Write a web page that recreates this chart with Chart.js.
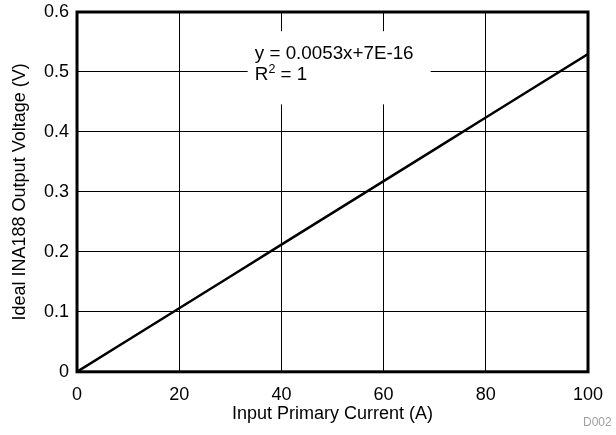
<!DOCTYPE html>
<html>
<head>
<meta charset="utf-8">
<script src="https://cdn.jsdelivr.net/npm/chart.js@4/dist/chart.umd.min.js"></script>
<style>
  html, body { margin: 0; padding: 0; background: #fff; }
  #wrap { position: relative; width: 616px; height: 435px; }
  #note { position: absolute; left: 583px; top: 415px; font: 12px "Liberation Sans", Arial, sans-serif; color: #a0a0a0; }
</style>
</head>
<body>
<div id="wrap">
  <canvas id="c" width="616" height="435"></canvas>
  <div id="note">D002</div>
</div>
<script>
const currentA = [0, 10, 20, 30, 40, 50, 60, 70, 80, 90, 100];
const outputV = [0, 0.053, 0.106, 0.159, 0.212, 0.265, 0.318, 0.371, 0.424, 0.477, 0.53];
const xTicks = [0, 20, 40, 60, 80, 100];
const yTicks = [0, 0.1, 0.2, 0.3, 0.4, 0.5, 0.6];
const eqLine1 = 'y = 0.0053x+7E-16';
const eqLine2R = 'R';
const eqLine2Sup = '2';
const eqLine2Rest = ' = 1';

const FONT = '"Liberation Sans", Arial, sans-serif';

const annotationPlugin = {
  id: 'eqBox',
  beforeDatasetsDraw(chart) {
    const { ctx, scales: { x, y } } = chart;
    ctx.save();
    const x0 = x.getPixelForValue(33.4), x1 = x.getPixelForValue(69.2);
    const y0 = y.getPixelForValue(0.568), y1 = y.getPixelForValue(0.446);
    ctx.fillStyle = '#fff';
    ctx.fillRect(x0, y0, x1 - x0, y1 - y0);
    ctx.fillStyle = '#000';
    ctx.font = '18.8px ' + FONT;
    ctx.textBaseline = 'alphabetic';
    const tx = x.getPixelForValue(34.8);
    ctx.fillText(eqLine1, tx, y.getPixelForValue(0.522));
    const by = y.getPixelForValue(0.487);
    ctx.fillText(eqLine2R, tx, by);
    let w = ctx.measureText(eqLine2R).width;
    ctx.font = '12.5px ' + FONT;
    ctx.fillText(eqLine2Sup, tx + w, by - 7);
    w += ctx.measureText(eqLine2Sup).width;
    ctx.font = '18.8px ' + FONT;
    ctx.fillText(eqLine2Rest, tx + w, by);
    ctx.restore();
  },
  afterDraw(chart) {
    const { ctx, chartArea: a } = chart;
    ctx.save();
    ctx.strokeStyle = '#000';
    ctx.lineWidth = 3;
    ctx.strokeRect(a.left, a.top, a.right - a.left, a.bottom - a.top);
    ctx.restore();
  }
};

new Chart(document.getElementById('c'), {
  type: 'scatter',
  data: {
    datasets: [{
      data: currentA.map((v, i) => ({ x: v, y: outputV[i] })),
      showLine: true,
      borderColor: '#000',
      borderWidth: 2.5,
      pointRadius: 0,
      fill: false,
      tension: 0
    }]
  },
  options: {
    responsive: false,
    animation: false,
    devicePixelRatio: 1,
    layout: { padding: { left: 9, right: 28, top: 12, bottom: 0 } },
    plugins: { legend: { display: false }, tooltip: { enabled: false } },
    scales: {
      x: {
        type: 'linear',
        min: 0, max: 100,
        afterBuildTicks(s) { s.ticks = xTicks.map(v => ({ value: v })); },
        grid: { color: '#000', lineWidth: 1, drawTicks: false },
        border: { display: false },
        ticks: { color: '#000', font: { family: FONT, size: 18 }, padding: 12.5, maxRotation: 0 },
        title: { display: true, text: 'Input Primary Current (A)', color: '#000', font: { family: FONT, size: 18 }, padding: { top: -15, bottom: 10 } }
      },
      y: {
        type: 'linear',
        min: 0, max: 0.6,
        afterBuildTicks(s) { s.ticks = yTicks.map(v => ({ value: v })); },
        grid: { color: '#000', lineWidth: 1, drawTicks: false },
        border: { display: false },
        ticks: { color: '#000', font: { family: FONT, size: 18, lineHeight: 0.4 }, padding: 8, callback: v => String(Math.round(v * 10) / 10) },
        title: { display: true, text: 'Ideal INA188 Output Voltage (V)', color: '#000', font: { family: FONT, size: 18 }, padding: { top: 0, bottom: 5.4 } }
      }
    }
  },
  plugins: [annotationPlugin]
});
</script>
</body>
</html>
